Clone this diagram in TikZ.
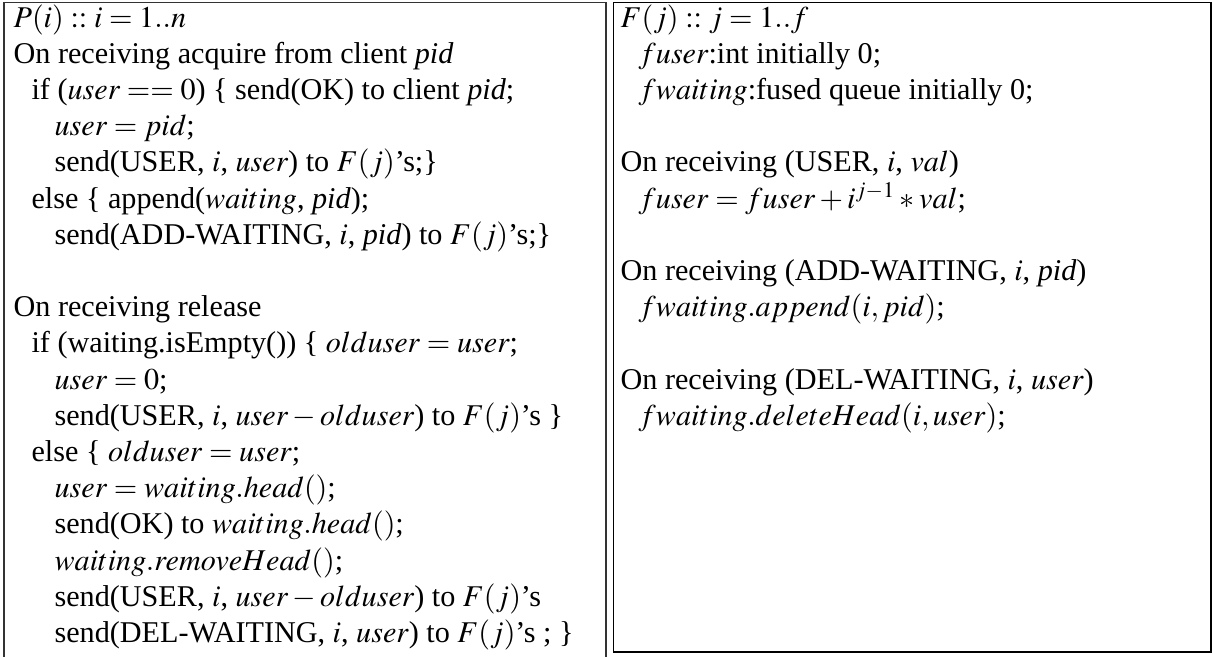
\documentclass[tikz,border=0pt]{standalone}
\usepackage{mathptmx}
\usepackage{fontspec}
\setmainfont{Liberation Serif}

\begin{document}
\begin{tikzpicture}[
    x=0.3315pt, y=-0.3315pt,
    line/.style={anchor=base west, inner sep=0pt, font=\fontsize{10}{12}\selectfont},
    frame/.style={draw=black!80, line width=0.6pt}
]
    \useasboundingbox (0,0) rectangle (1213,656);

    % Frames
    \draw[frame] (4,690) -- (4,2.5) -- (606,2.5) -- (606,690);
    \draw[frame, draw=black, line width=0.45pt] (613.5,2.5) rectangle (1211,652);

    % Process P(i)
    \node[line] (p1) at (13,27) {$P(i) :: i = 1..n$};
    \node[line] (p2) at (13,63.2) {On receiving acquire from client \textit{pid}};
    \node[line] (p3) at (31,99.4) {if ($user == 0$) \{ send(OK) to client \textit{pid};};
    \node[line] (p4) at (54,135.6) {$user = pid$;};
    \node[line] (p5) at (54,171.8) {send(USER, $i$, $user$) to $F(j)$’s;\}};
    \node[line] (p6) at (31,208) {else \{ append($waiting$, \textit{pid});};
    \node[line] (p7) at (54,244.2) {send(ADD-WAITING, $i$, \textit{pid}) to $F(j)$’s;\}};
    \node[line] (p9) at (13,316.6) {On receiving release};
    \node[line] (p10) at (31,352.8) {if (waiting.isEmpty()) \{ $olduser = user$;};
    \node[line] (p11) at (54,389) {$user = 0$;};
    \node[line] (p12) at (54,425.2) {send(USER, $i$, $user - olduser$) to $F(j)$’s \}};
    \node[line] (p13) at (31,461.4) {else \{ $olduser = user$;};
    \node[line] (p14) at (54,497.6) {$user = waiting.head()$;};
    \node[line] (p15) at (54,533.8) {send(OK) to $waiting.head()$;};
    \node[line] (p16) at (54,570) {$waiting.removeHead()$;};
    \node[line] (p17) at (54,606.2) {send(USER, $i$, $user - olduser$) to $F(j)$’s};
    \node[line] (p18) at (54,642.4) {send(DEL-WAITING, $i$, $user$) to $F(j)$’s ; \}};

    % Fused process F(j)
    \node[line] (f1) at (620,27) {$F(j) :: j = 1..f$};
    \node[line] (f2) at (638,63.2) {$fuser$:int initially 0;};
    \node[line] (f3) at (638,99.4) {$fwaiting$:fused queue initially 0;};
    \node[line] (f5) at (620,171.8) {On receiving (USER, $i$, $val$)};
    \node[line] (f6) at (638,208) {$fuser = fuser + i^{j-1} \ast val$;};
    \node[line] (f8) at (620,280.4) {On receiving (ADD-WAITING, $i$, \textit{pid})};
    \node[line] (f9) at (638,316.6) {$fwaiting.append(i, pid)$;};
    \node[line] (f11) at (620,389) {On receiving (DEL-WAITING, $i$, $user$)};
    \node[line] (f12) at (638,425.2) {$fwaiting.deleteHead(i, user)$;};
\end{tikzpicture}
\end{document}
